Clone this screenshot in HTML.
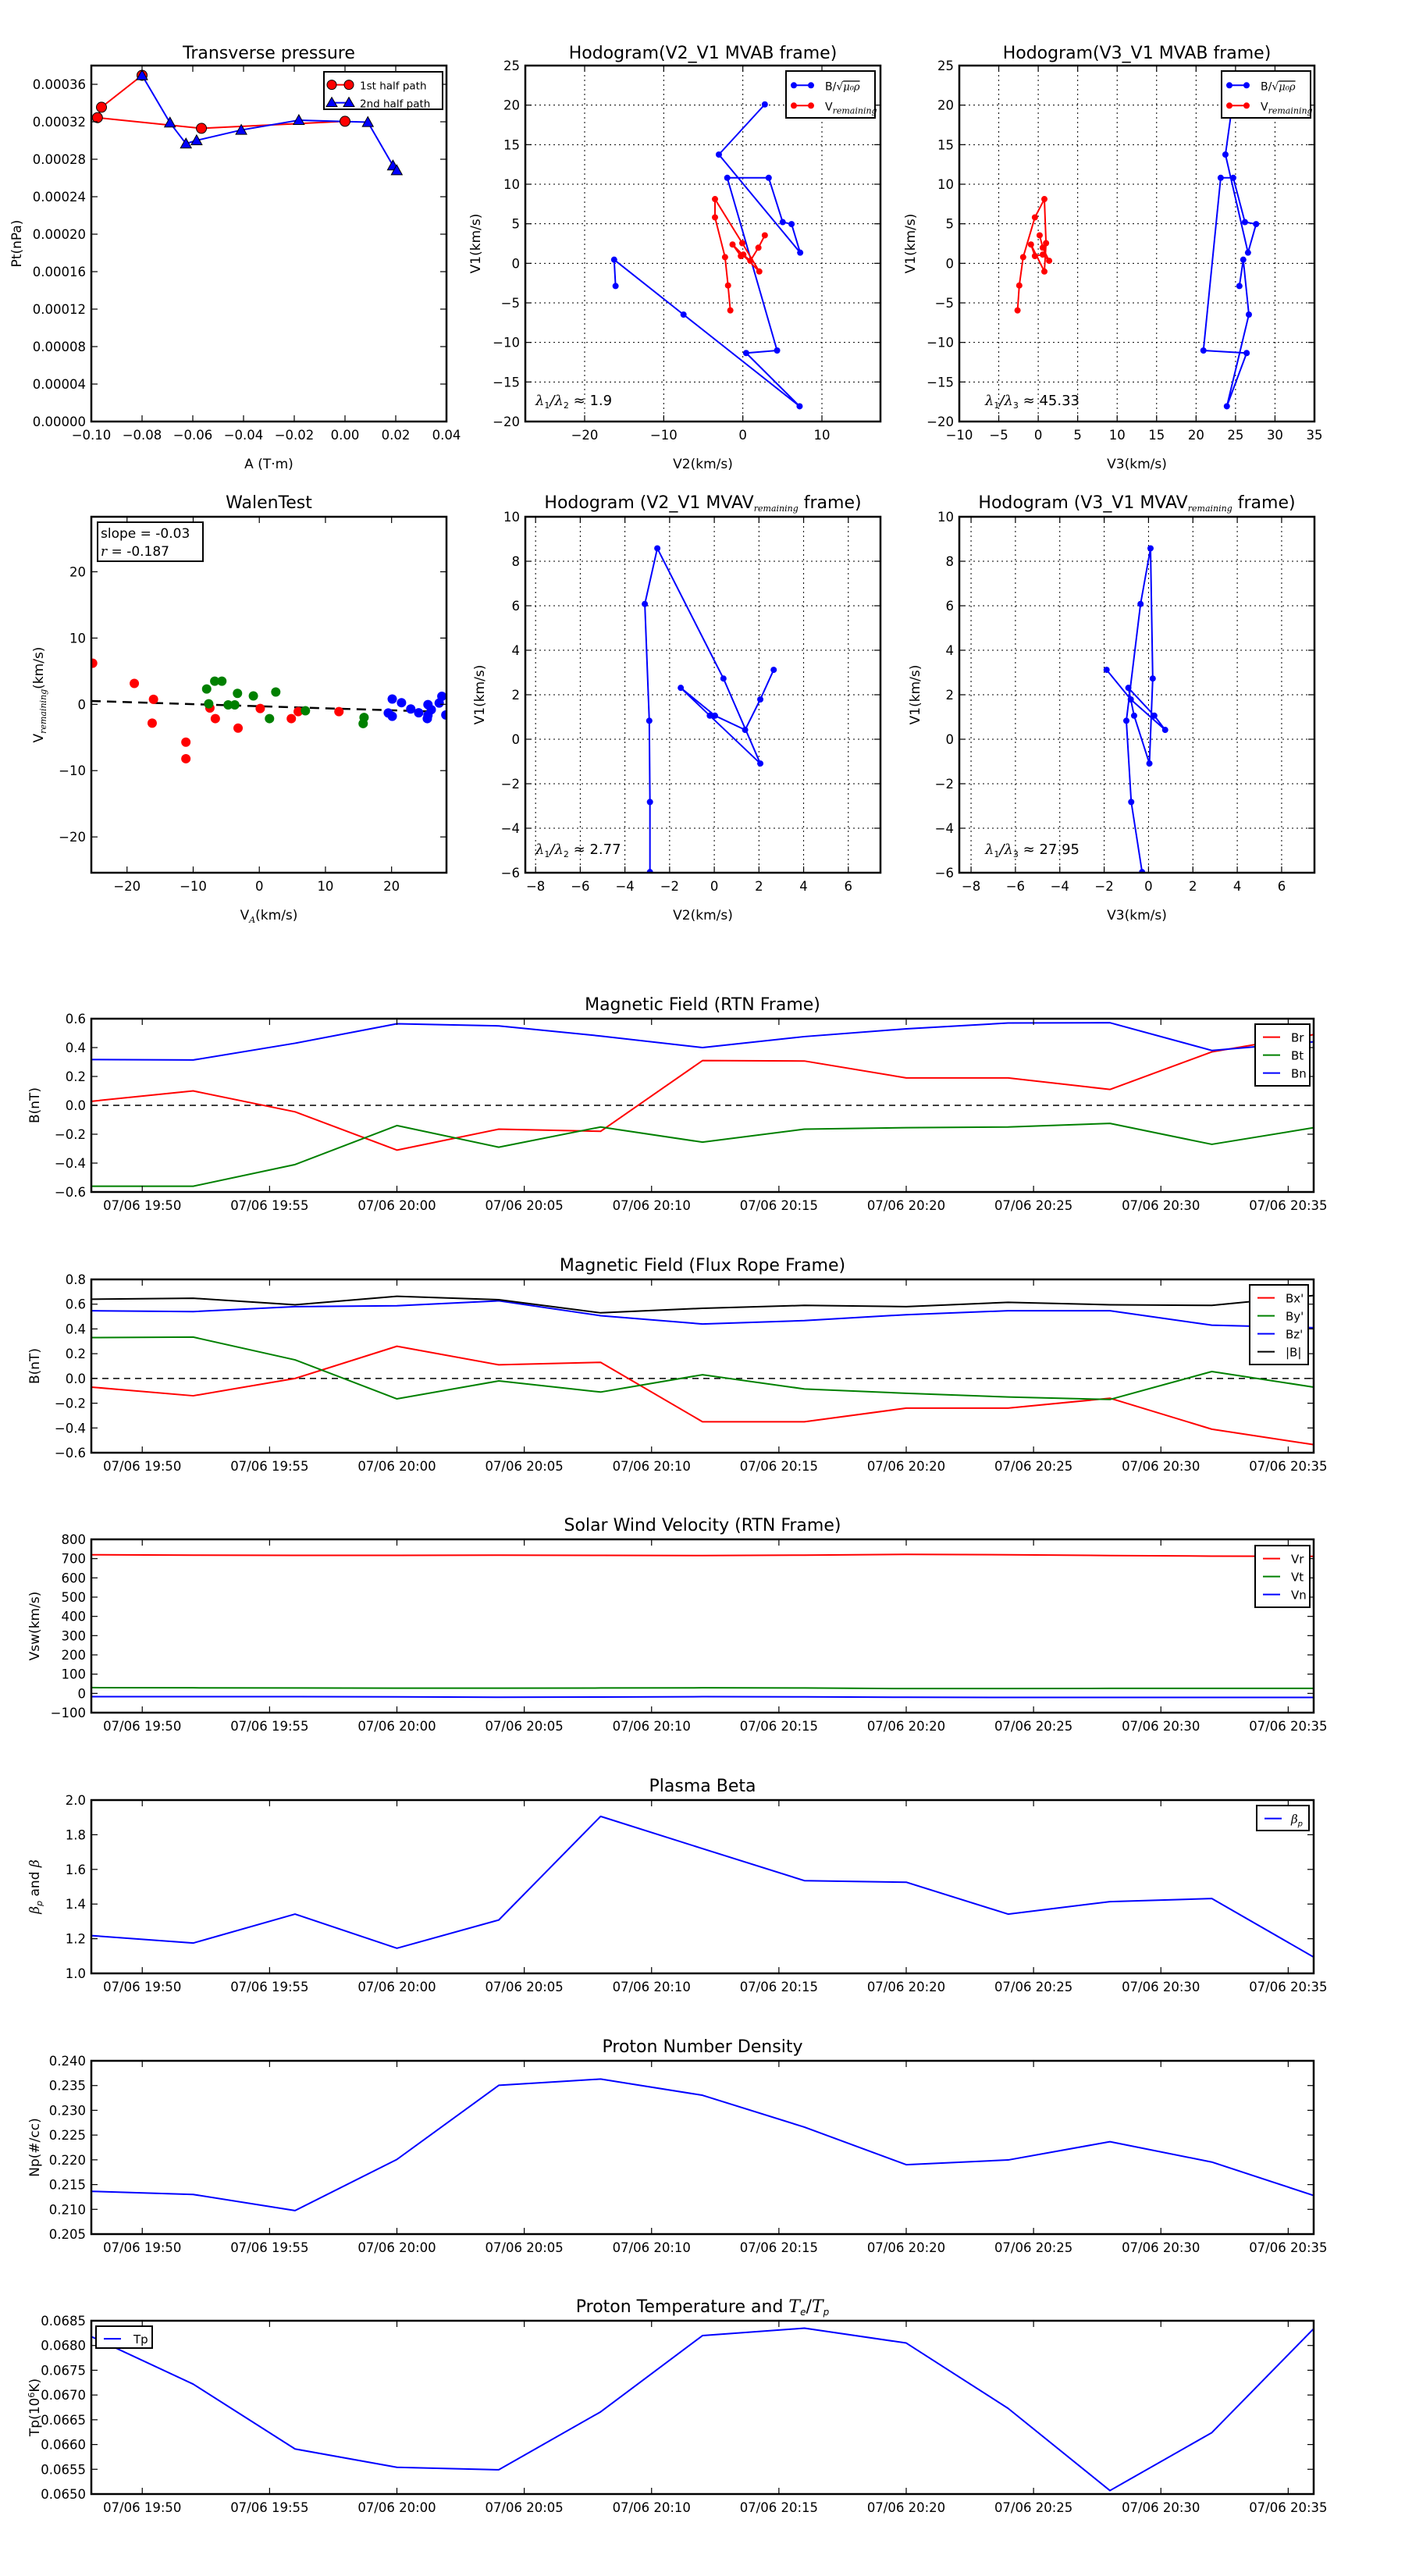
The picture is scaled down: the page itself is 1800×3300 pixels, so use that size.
<!DOCTYPE html>
<html><head><meta charset="utf-8"><title>Flux rope analysis figure</title>
<style>
html,body{margin:0;padding:0;background:#fff;}
svg{display:block;font-family:"DejaVu Sans","Liberation Sans",sans-serif;}
</style></head>
<body>
<svg id="fig" width="1800" height="3300" viewBox="0 0 1800 3300" xmlns="http://www.w3.org/2000/svg">
<rect width="1800" height="3300" fill="#fff"/>
</svg>
<script>
// ---------- data ----------
const ptRedA = [0.0000, -0.0566, -0.0976, -0.0960, -0.0800];
const ptRedP = [0.0003205, 0.000313, 0.0003244, 0.0003355, 0.0003696];
const ptBlueA = [-0.0800, -0.069, -0.0627, -0.0585, -0.0409, -0.0182, 0.009, 0.0189, 0.0204];
const ptBlueP = [0.0003696, 0.000319, 0.0002966, 0.0003001, 0.0003112, 0.0003217, 0.0003196, 0.0002732, 0.0002681];

const hbV1 = [20.09, 13.75, 1.35, 4.96, 5.21, 10.81, 10.81, -11.02, -11.34, -18.07, -6.48, 0.46, -2.87];
const hbV2 = [2.78, -3.03, 7.25, 6.16, 5.04, 3.27, -1.97, 4.33, 0.42, 7.18, -7.5, -16.27, -16.09];
const hbV3 = [24.6, 23.72, 26.58, 27.61, 26.19, 24.71, 23.12, 20.93, 26.41, 23.9, 26.69, 25.98, 25.49];
const hrV1 = [-5.95, -2.80, 0.78, 5.81, 8.12, 2.55, -1.03, 2.38, 0.92, 1.10, 0.32, 1.98, 3.54];
const hrV2 = [-1.58, -1.87, -2.25, -3.52, -3.52, -0.07, 2.08, -1.30, -0.25, 0.07, 0.95, 1.97, 2.78];
const hrV3 = [-2.62, -2.40, -1.91, -0.42, 0.78, 0.99, 0.78, -0.92, -0.42, 0.57, 1.38, 0.57, 0.18];

const walenRedX = [-25.2, -18.9, -16.0, -16.2, -11.1, -11.1, -7.47, -6.65, -3.21, 0.14, 4.84, 5.88, 12.04];
const walenRedY = [6.2, 3.16, 0.76, -2.83, -5.7, -8.2, -0.55, -2.15, -3.59, -0.63, -2.15, -1.1, -1.1];
const walenGreenX = [-7.96, -7.65, -6.74, -5.66, -4.71, -3.71, -3.3, -0.9, 1.54, 2.49, 6.97, 15.84, 15.7];
const walenGreenY = [2.32, 0.08, 3.5, 3.5, -0.08, -0.08, 1.65, 1.27, -2.15, 1.86, -0.97, -1.98, -2.9];
const walenBlueX = [20.1, 21.5, 19.5, 20.1, 22.9, 24.1, 25.5, 25.4, 25.5, 26.0, 27.2, 27.6, 28.2];
const walenBlueY = [0.8, 0.25, -1.3, -1.8, -0.7, -1.27, -0.04, -2.15, -1.65, -0.8, 0.2, 1.22, -1.6];
const walenFit = [-0.031, -0.28];
const walenFitRange = [-25.4, 26.4];

const hvV1 = [-5.97, -2.82, 0.83, 6.08, 8.58, 2.73, -1.09, 1.06, 2.31, 1.06, 0.42, 1.79, 3.12];
const hvV2 = [-2.88, -2.88, -2.91, -3.11, -2.55, 0.41, 2.06, -0.2, -1.5, 0.03, 1.38, 2.06, 2.66];
const hvV3 = [-0.29, -0.78, -1.0, -0.36, 0.09, 0.19, 0.04, -0.65, -0.91, 0.26, 0.75, -0.8, -1.89];

const tMin = [0, 4, 8, 12, 16, 20, 24, 28, 32, 36, 40, 44, 48];
const timeTickMin = [2, 7, 12, 17, 22, 27, 32, 37, 42, 47];
const timeTickLabels = ['07/06 19:50','07/06 19:55','07/06 20:00','07/06 20:05','07/06 20:10','07/06 20:15','07/06 20:20','07/06 20:25','07/06 20:30','07/06 20:35'];

const Br = [0.028, 0.10, -0.045, -0.31, -0.165, -0.18, 0.31, 0.307, 0.19, 0.19, 0.11, 0.37, 0.49];
const Bt = [-0.56, -0.56, -0.41, -0.14, -0.29, -0.15, -0.255, -0.165, -0.155, -0.15, -0.125, -0.27, -0.155];
const Bn = [0.317, 0.314, 0.43, 0.565, 0.55, 0.48, 0.40, 0.476, 0.53, 0.57, 0.572, 0.38, 0.44];

const Bx1 = [-0.07, -0.14, 0.0, 0.26, 0.11, 0.13, -0.35, -0.35, -0.24, -0.24, -0.16, -0.41, -0.535];
const By1 = [0.33, 0.334, 0.15, -0.165, -0.02, -0.11, 0.03, -0.085, -0.12, -0.15, -0.17, 0.056, -0.07];
const Bz1 = [0.547, 0.54, 0.58, 0.587, 0.627, 0.507, 0.44, 0.467, 0.515, 0.547, 0.547, 0.43, 0.41];
const Bmag = [0.64, 0.648, 0.595, 0.664, 0.636, 0.53, 0.567, 0.59, 0.58, 0.615, 0.595, 0.59, 0.67];

const Vr = [720, 718, 717, 717, 718, 717, 716, 718, 722, 720, 716, 713, 712];
const Vt = [30, 29, 28, 27, 27, 28, 29, 28, 25, 25, 26, 26, 26];
const Vn = [-17, -17, -17, -18, -20, -19, -17, -18, -20, -21, -21, -21, -21];

const betaP = [1.218, 1.175, 1.342, 1.145, 1.308, 1.906, 1.72, 1.535, 1.526, 1.342, 1.414, 1.432, 1.094];
const Np = [0.21364, 0.2130, 0.20975, 0.22008, 0.23505, 0.23631, 0.23304, 0.22661, 0.21902, 0.21997, 0.22366, 0.21955, 0.2128];
const Tp = [0.06818, 0.06722, 0.06591, 0.06554, 0.06549, 0.06666, 0.06820, 0.06835, 0.06805, 0.06673, 0.06507, 0.06624, 0.06834];

// ---------- helpers ----------
const NS = 'http://www.w3.org/2000/svg';
const svg = document.getElementById('fig');
let clipN = 0;
function mk(tag, attrs, parent) {
  const e = document.createElementNS(NS, tag);
  for (const k in attrs) e.setAttribute(k, attrs[k]);
  (parent || svg).appendChild(e);
  return e;
}
function fmt(v, d) { if (Math.abs(v) < 1e-12) v = 0; return v.toFixed(d).replace('-', '\u2212'); }
function range(a, b, s) { const r = []; const n = Math.round((b - a) / s); for (let i = 0; i <= n; i++) r.push(a + i * s); return r; }

function addText(parent, x, y, segs, opts) {
  const t = mk('text', Object.assign({x: x, y: y, 'font-size': 17, fill: '#000'}, opts || {}), parent);
  segs.forEach(s => {
    const ts = mk('tspan', s.a || {}, t);
    ts.textContent = s.t;
  });
  return t;
}

function makeAxes(name, o) {
  const g = mk('g', {});
  
  
  const sx = v => o.x + (v - o.xmin) / (o.xmax - o.xmin) * o.w;
  const sy = v => o.y + o.h - (v - o.ymin) / (o.ymax - o.ymin) * o.h;
  const id = 'clip' + (clipN++);
  const defs = mk('defs', {}, g);
  mk('rect', {x: o.x, y: o.y, width: o.w, height: o.h}, mk('clipPath', {id: id}, defs));
  if (o.grid) {
    o.xticks.forEach(v => {
      const l = mk('line', {x1: sx(v), x2: sx(v), y1: o.y, y2: o.y + o.h, stroke: '#000', 'stroke-width': 1, 'stroke-dasharray': '2,4'}, g);
      
      
    });
    o.yticks.forEach(v => {
      const l = mk('line', {x1: o.x, x2: o.x + o.w, y1: sy(v), y2: sy(v), stroke: '#000', 'stroke-width': 1, 'stroke-dasharray': '2,4'}, g);
      
      
    });
  }
  const plot = mk('g', {'clip-path': 'url(#' + id + ')'}, g);
  
  
  const frame = mk('rect', {x: o.x, y: o.y, width: o.w, height: o.h, fill: 'none', stroke: '#000', 'stroke-width': 2.5}, g);
  
  
  o.xticks.forEach((v, i) => {
    const X = sx(v);
    mk('line', {x1: X, x2: X, y1: o.y + o.h, y2: o.y + o.h - 8, stroke: '#000', 'stroke-width': 1.2}, g);
    mk('line', {x1: X, x2: X, y1: o.y, y2: o.y + 8, stroke: '#000', 'stroke-width': 1.2}, g);
    const lab = o.xlabels ? o.xlabels[i] : fmt(v, o.xdec);
    const t = mk('text', {x: X, y: o.y + o.h + 23, 'text-anchor': 'middle', 'font-size': 16.5}, g);
    t.textContent = lab;
    
    
  });
  o.yticks.forEach(v => {
    const Y = sy(v);
    mk('line', {x1: o.x, x2: o.x + 8, y1: Y, y2: Y, stroke: '#000', 'stroke-width': 1.2}, g);
    mk('line', {x1: o.x + o.w, x2: o.x + o.w - 8, y1: Y, y2: Y, stroke: '#000', 'stroke-width': 1.2}, g);
    const t = mk('text', {x: o.x - 7, y: Y + 6, 'text-anchor': 'end', 'font-size': 16.5}, g);
    t.textContent = fmt(v, o.ydec);
    
    
  });
  const tt = addText(g, o.x + o.w / 2, o.titleY || (o.y - 11), o.title, {'text-anchor': 'middle', 'font-size': 22});
  
  
  if (o.xlabel) {
    const xl = addText(g, o.x + o.w / 2, o.y + o.h + 60, o.xlabel, {'text-anchor': 'middle', 'font-size': 17});
    
    
  }
  if (o.ylabel) {
    const yl = addText(g, 0, 0, o.ylabel, {'text-anchor': 'middle', 'font-size': 17, transform: 'translate(' + (o.ylabelX) + ',' + (o.y + o.h / 2) + ') rotate(-90)'});
    
    
  }
  return {g: g, plot: plot, sx: sx, sy: sy, o: o};
}

function drawLine(ax, xs, ys, color, width, name, dash) {
  const d = xs.map((x, i) => (i ? 'L' : 'M') + ax.sx(x).toFixed(2) + ' ' + ax.sy(ys[i]).toFixed(2)).join(' ');
  const p = mk('path', {d: d, fill: 'none', stroke: color, 'stroke-width': width, 'stroke-linejoin': 'round'}, ax.plot);
  if (dash) p.setAttribute('stroke-dasharray', dash);
  
  
  return p;
}
function drawDots(ax, xs, ys, color, r, name, edge) {
  xs.forEach((x, i) => {
    const c = mk('circle', {cx: ax.sx(x), cy: ax.sy(ys[i]), r: r, fill: color, stroke: edge || 'none', 'stroke-width': edge ? 1 : 0}, ax.plot);
    
    
  });
}
function drawTris(ax, xs, ys, color, s, name) {
  xs.forEach((x, i) => {
    const X = ax.sx(x), Y = ax.sy(ys[i]);
    const p = mk('polygon', {points: X + ',' + (Y - s) + ' ' + (X - s) + ',' + (Y + s * 0.8) + ' ' + (X + s) + ',' + (Y + s * 0.8), fill: color, stroke: '#000', 'stroke-width': 1}, ax.plot);
    
    
  });
}
function legend(ax, x, y, w, h, entries, spacing, markerFn) {
  const g = mk('g', {}, ax.g);
  
  
  mk('rect', {x: x, y: y, width: w, height: h, fill: '#fff', stroke: '#000', 'stroke-width': 2}, g);
  entries.forEach((e, i) => {
    const cy = y + spacing * 0.55 + 4 + i * spacing;
    const eg = mk('g', {}, g);
    
    
    mk('line', {x1: x + 10, x2: x + 32, y1: cy, y2: cy, stroke: e.color, 'stroke-width': 2}, eg);
    if (markerFn) markerFn(eg, x, cy, e);
    addText(eg, x + (e.tx || 48), cy + 6, e.label, {'font-size': e.fs || 16});
  });
  return g;
}
const sub = (t) => ({t: t, a: {'font-size': 11, 'font-style': 'italic', 'font-family': 'DejaVu Serif, serif', dy: 4}});

// ---------- Row 1 ----------
const ax1 = makeAxes('transverse-pressure-chart', {x: 117, y: 84, w: 455, h: 456, xmin: -0.10, xmax: 0.04, ymin: 0, ymax: 0.00038,
  xticks: range(-0.10, 0.04, 0.02), yticks: range(0, 0.00036, 0.00004), xdec: 2, ydec: 5,
  title: [{t: 'Transverse pressure'}], titleY: 75, xlabel: [{t: 'A (T\u00b7m)'}], ylabel: [{t: 'Pt(nPa)'}], ylabelX: 27});
drawLine(ax1, ptRedA, ptRedP, '#f00', 2, 'first-half-path-line');
drawLine(ax1, ptBlueA, ptBlueP, '#00f', 2, 'second-half-path-line');
drawDots(ax1, ptRedA, ptRedP, '#f00', 6.5, 'first-half-point', '#000');
drawTris(ax1, ptBlueA, ptBlueP, '#00f', 7, 'second-half-point');
legend(ax1, 415, 92, 152, 48, [
  {color: '#f00', label: [{t: '1st half path'}], kind: 'c', tx: 46, fs: 13.5},
  {color: '#00f', label: [{t: '2nd half path'}], kind: 't', tx: 46, fs: 13.5}], 23, (g, x, cy, e) => {
    [x + 10, x + 32].forEach(X => {
      if (e.kind === 'c') mk('circle', {cx: X, cy: cy, r: 6, fill: '#f00', stroke: '#000'}, g);
      else mk('polygon', {points: X + ',' + (cy - 7) + ' ' + (X - 7) + ',' + (cy + 5) + ' ' + (X + 7) + ',' + (cy + 5), fill: '#00f', stroke: '#000'}, g);
    });
  });

function hodoLegend(ax, x, y) {
  legend(ax, x, y, 114, 60, [
    {color: '#00f', label: [{t: 'B/\u221a'}, {t: '\u03bc\u2080\u03c1', a: {'font-style': 'italic', 'font-family': 'DejaVu Serif, serif', 'text-decoration': 'overline', 'font-size': 13}}], tx: 50, fs: 14},
    {color: '#f00', label: [{t: 'V'}, sub('remaining')], tx: 50, fs: 14}], 26, (g, x2, cy, e) => {
      mk('circle', {cx: x2 + 10, cy: cy, r: 4, fill: e.color}, g);
      mk('circle', {cx: x2 + 32, cy: cy, r: 4, fill: e.color}, g);
    });
}
function lamText(ax, x, y, a, b, val) {
  const t = addText(ax.g, x, y, [{t: '\u03bb', a: {'font-style': 'italic', 'font-family': 'DejaVu Serif, serif'}}, {t: a, a: {'font-size': 11, dy: 4}},
    {t: '/', a: {dy: -4, 'font-style': 'italic'}}, {t: '\u03bb', a: {'font-style': 'italic', 'font-family': 'DejaVu Serif, serif'}}, {t: b, a: {'font-size': 11, dy: 4}},
    {t: ' \u2248 ' + val, a: {dy: -4}}], {'font-size': 18});
  
  
}

const ax2 = makeAxes('hodogram-v2-v1-mvab', {x: 673, y: 84, w: 455, h: 456, xmin: -27.5, xmax: 17.4, ymin: -20, ymax: 25,
  xticks: [-20, -10, 0, 10], yticks: range(-20, 25, 5), xdec: 0, ydec: 0, grid: true,
  title: [{t: 'Hodogram(V2_V1 MVAB frame)'}], titleY: 75, xlabel: [{t: 'V2(km/s)'}], ylabel: [{t: 'V1(km/s)'}], ylabelX: 615});
drawLine(ax2, hbV2, hbV1, '#00f', 2, 'b-hodogram-line');
drawDots(ax2, hbV2, hbV1, '#00f', 4, 'b-hodogram-point');
drawLine(ax2, hrV2, hrV1, '#f00', 2, 'v-remaining-line');
drawDots(ax2, hrV2, hrV1, '#f00', 4, 'v-remaining-point');
hodoLegend(ax2, 1007, 91);
lamText(ax2, 686, 519, '1', '2', '1.9');

const ax3 = makeAxes('hodogram-v3-v1-mvab', {x: 1229, y: 84, w: 455, h: 456, xmin: -10, xmax: 35, ymin: -20, ymax: 25,
  xticks: range(-10, 35, 5), yticks: range(-20, 25, 5), xdec: 0, ydec: 0, grid: true,
  title: [{t: 'Hodogram(V3_V1 MVAB frame)'}], titleY: 75, xlabel: [{t: 'V3(km/s)'}], ylabel: [{t: 'V1(km/s)'}], ylabelX: 1172});
drawLine(ax3, hbV3, hbV1, '#00f', 2, 'b-hodogram-line');
drawDots(ax3, hbV3, hbV1, '#00f', 4, 'b-hodogram-point');
drawLine(ax3, hrV3, hrV1, '#f00', 2, 'v-remaining-line');
drawDots(ax3, hrV3, hrV1, '#f00', 4, 'v-remaining-point');
hodoLegend(ax3, 1565, 91);
lamText(ax3, 1262, 519, '1', '3', '45.33');

// ---------- Row 2 ----------
const ax4 = makeAxes('walen-test-chart', {x: 117, y: 662, w: 455, h: 456, xmin: -25.4, xmax: 28.3, ymin: -25.4, ymax: 28.3,
  xticks: [-20, -10, 0, 10, 20], yticks: [-20, -10, 0, 10, 20], xdec: 0, ydec: 0,
  title: [{t: 'WalenTest'}], titleY: 651, xlabel: [{t: 'V'}, sub('A'), {t: '(km/s)', a: {dy: -4}}],
  ylabel: [{t: 'V'}, sub('remaining'), {t: '(km/s)', a: {dy: -4}}], ylabelX: 55});
drawLine(ax4, walenFitRange, walenFitRange.map(v => walenFit[0] * v + walenFit[1]), '#000', 2.5, 'walen-fit-line', '12,8');
drawDots(ax4, walenRedX, walenRedY, '#f00', 6, 'walen-red-point');
drawDots(ax4, walenGreenX, walenGreenY, '#008000', 6, 'walen-green-point');
drawDots(ax4, walenBlueX, walenBlueY, '#00f', 6, 'walen-blue-point');
{
  const bx = mk('rect', {x: 125, y: 669, width: 135, height: 50, fill: '#fff', stroke: '#000', 'stroke-width': 2}, ax4.g);
  
  
  const t1 = addText(ax4.g, 129, 689, [{t: 'slope = -0.03'}], {'font-size': 17});
  
  
  const t2 = addText(ax4.g, 129, 712, [{t: 'r', a: {'font-style': 'italic', 'font-family': 'DejaVu Serif, serif'}}, {t: ' = -0.187'}], {'font-size': 17});
  
  
}

const ax5 = makeAxes('hodogram-v2-v1-mvav', {x: 673, y: 662, w: 455, h: 456, xmin: -8.46, xmax: 7.44, ymin: -6, ymax: 10,
  xticks: range(-8, 6, 2), yticks: range(-6, 10, 2), xdec: 0, ydec: 0, grid: true,
  title: [{t: 'Hodogram (V2_V1 MVAV'}, sub('remaining'), {t: ' frame)', a: {dy: -4}}], titleY: 651,
  xlabel: [{t: 'V2(km/s)'}], ylabel: [{t: 'V1(km/s)'}], ylabelX: 620});
drawLine(ax5, hvV2, hvV1, '#00f', 2, 'v-hodogram-line');
drawDots(ax5, hvV2, hvV1, '#00f', 4, 'v-hodogram-point');
lamText(ax5, 686, 1094, '1', '2', '2.77');

const ax6 = makeAxes('hodogram-v3-v1-mvav', {x: 1229, y: 662, w: 455, h: 456, xmin: -8.53, xmax: 7.48, ymin: -6, ymax: 10,
  xticks: range(-8, 6, 2), yticks: range(-6, 10, 2), xdec: 0, ydec: 0, grid: true,
  title: [{t: 'Hodogram (V3_V1 MVAV'}, sub('remaining'), {t: ' frame)', a: {dy: -4}}], titleY: 651,
  xlabel: [{t: 'V3(km/s)'}], ylabel: [{t: 'V1(km/s)'}], ylabelX: 1178});
drawLine(ax6, hvV3, hvV1, '#00f', 2, 'v-hodogram-line');
drawDots(ax6, hvV3, hvV1, '#00f', 4, 'v-hodogram-point');
lamText(ax6, 1262, 1094, '1', '3', '27.95');

// ---------- Time series ----------
function timeAxes(name, top, ymin, ymax, yticks, ydec, title, ylabel) {
  return makeAxes(name, {x: 117, y: top, w: 1566, h: 222, xmin: 0, xmax: 48, ymin: ymin, ymax: ymax,
    xticks: timeTickMin, xlabels: timeTickLabels, yticks: yticks, ydec: ydec, title: title, ylabel: ylabel, ylabelX: 50});
}
function lineLegend(ax, x, y, w, entries) {
  legend(ax, x, y, w, entries.length * 23 + 10, entries.map(e => ({color: e[0], label: e[1], tx: 46, fs: 15})), 23);
}
const zeroX = [0, 48];

const a7 = timeAxes('magnetic-field-rtn-chart', 1305, -0.6, 0.6, range(-0.6, 0.6, 0.2), 1, [{t: 'Magnetic Field (RTN Frame)'}], [{t: 'B(nT)'}]);
drawLine(a7, zeroX, [0, 0], '#000', 1.5, 'zero-line', '8,6');
drawLine(a7, tMin, Br, '#f00', 2, 'br-line');
drawLine(a7, tMin, Bt, '#008000', 2, 'bt-line');
drawLine(a7, tMin, Bn, '#00f', 2, 'bn-line');
lineLegend(a7, 1608, 1312, 70, [['#f00', [{t: 'Br'}]], ['#008000', [{t: 'Bt'}]], ['#00f', [{t: 'Bn'}]]]);

const a8 = timeAxes('magnetic-field-flux-rope-chart', 1639, -0.6, 0.8, range(-0.6, 0.8, 0.2), 1, [{t: 'Magnetic Field (Flux Rope Frame)'}], [{t: 'B(nT)'}]);
drawLine(a8, zeroX, [0, 0], '#000', 1.5, 'zero-line', '8,6');
drawLine(a8, tMin, Bx1, '#f00', 2, 'bx-line');
drawLine(a8, tMin, By1, '#008000', 2, 'by-line');
drawLine(a8, tMin, Bz1, '#00f', 2, 'bz-line');
drawLine(a8, tMin, Bmag, '#000', 2, 'bmag-line');
lineLegend(a8, 1601, 1646, 75, [['#f00', [{t: "Bx'"}]], ['#008000', [{t: "By'"}]], ['#00f', [{t: "Bz'"}]], ['#000', [{t: '|B|'}]]]);

const a9 = timeAxes('solar-wind-velocity-chart', 1972, -100, 800, range(-100, 800, 100), 0, [{t: 'Solar Wind Velocity (RTN Frame)'}], [{t: 'Vsw(km/s)'}]);
drawLine(a9, tMin, Vr, '#f00', 2, 'vr-line');
drawLine(a9, tMin, Vt, '#008000', 2, 'vt-line');
drawLine(a9, tMin, Vn, '#00f', 2, 'vn-line');
lineLegend(a9, 1608, 1980, 70, [['#f00', [{t: 'Vr'}]], ['#008000', [{t: 'Vt'}]], ['#00f', [{t: 'Vn'}]]]);

const a10 = timeAxes('plasma-beta-chart', 2306, 1.0, 2.0, range(1.0, 2.0, 0.2), 1, [{t: 'Plasma Beta'}],
  [{t: '\u03b2', a: {'font-style': 'italic', 'font-family': 'DejaVu Serif, serif'}}, {t: 'p', a: {'font-size': 11, 'font-style': 'italic', dy: 4}}, {t: ' and ', a: {dy: -4}}, {t: '\u03b2', a: {'font-style': 'italic', 'font-family': 'DejaVu Serif, serif'}}]);
drawLine(a10, tMin, betaP, '#00f', 2, 'beta-p-line');
legend(a10, 1610, 2313, 67, 32, [{color: '#00f', label: [{t: '\u03b2', a: {'font-style': 'italic', 'font-family': 'DejaVu Serif, serif'}}, {t: 'p', a: {'font-size': 10, dy: 4, 'font-style': 'italic'}}], tx: 44, fs: 15}], 23);

const a11 = timeAxes('proton-density-chart', 2640, 0.205, 0.240, range(0.205, 0.240, 0.005), 3, [{t: 'Proton Number Density'}], [{t: 'Np(#/cc)'}]);
drawLine(a11, tMin, Np, '#00f', 2, 'np-line');

const a12 = timeAxes('proton-temperature-chart', 2973, 0.0650, 0.0685, range(0.0650, 0.0685, 0.0005), 4,
  [{t: 'Proton Temperature and '}, {t: 'T', a: {'font-style': 'italic', 'font-family': 'DejaVu Serif, serif'}}, {t: 'e', a: {'font-size': 12, 'font-style': 'italic', dy: 4}}, {t: '/', a: {dy: -4}}, {t: 'T', a: {'font-style': 'italic', 'font-family': 'DejaVu Serif, serif'}}, {t: 'p', a: {'font-size': 12, 'font-style': 'italic', dy: 4}}],
  [{t: 'Tp(10'}, {t: '6', a: {'font-size': 11, dy: -6}}, {t: 'K)', a: {dy: 6}}]);
drawLine(a12, tMin, Tp, '#00f', 2, 'tp-line');
legend(a12, 123, 2980, 72, 28, [{color: '#00f', label: [{t: 'Tp'}], tx: 48, fs: 15}], 22);
</script>
</body></html>
